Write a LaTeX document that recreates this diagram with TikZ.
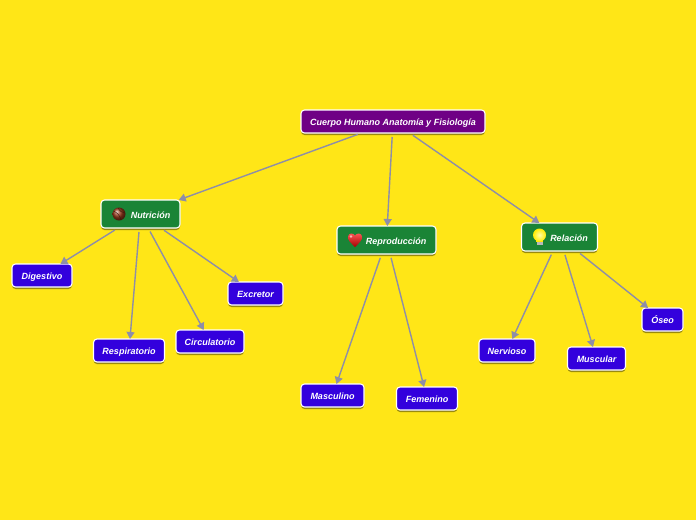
\documentclass[tikz,border=0pt]{standalone}
\usepackage{fontspec}
\setmainfont{Liberation Sans}
\usetikzlibrary{arrows.meta,shadows}
\definecolor{fondo}{HTML}{FFE617}
\definecolor{morado}{HTML}{6F0085}
\definecolor{verde}{HTML}{1A8436}
\definecolor{azul}{HTML}{3300DD}
\definecolor{enlace}{HTML}{8E8EA8}
\definecolor{balon}{HTML}{9A3A1C}
\tikzstyle{caja}=[draw=white,line width=1.1pt,rounded corners=3.5pt,inner sep=0pt,outer sep=0pt,text=white,text height=8pt,text depth=0pt,font=\fontsize{9}{10}\selectfont\bfseries\itshape,drop shadow={shadow xshift=0pt,shadow yshift=-2pt,fill=black,opacity=.4}]
\tikzstyle{raiz}=[caja,fill=morado,minimum width=184pt,minimum height=23pt]
\tikzstyle{rama}=[caja,fill=verde,minimum height=28pt]
\tikzstyle{hoja}=[caja,fill=azul,minimum height=23pt]
\tikzstyle{enlace}=[draw=enlace,line width=1.4pt,-{Triangle[length=7pt,width=8pt]},shorten <=4pt]

\begin{document}
\begin{tikzpicture}[x=1pt,y=-1pt]
	\useasboundingbox (0,0) rectangle (696,520);
	\fill[fondo] (0,0) rectangle (696,520);
	% cajas
	\node[raiz] (cuerpo) at (393,121.5){Cuerpo Humano Anatomía y Fisiología};
	\node[rama,minimum width=79pt] (nutricion) at (140.5,214){\hspace*{20pt}Nutrición};
	\node[rama,minimum width=99pt] (reproduccion) at (386.5,240){\hspace*{19pt}Reproducción};
	\node[rama,minimum width=76pt] (relacion) at (559.5,237){\hspace*{19pt}Relación};
	\node[hoja,minimum width=60pt] (digestivo) at (42,275.5){Digestivo};
	\node[hoja,minimum width=71pt] (respiratorio) at (129,350.5){Respiratorio};
	\node[hoja,minimum width=68pt] (circulatorio) at (210,341.5){Circulatorio};
	\node[hoja,minimum width=55pt] (excretor) at (255.5,293.5){Excretor};
	\node[hoja,minimum width=63pt] (masculino) at (332.5,395.5){Masculino};
	\node[hoja,minimum width=61pt] (femenino) at (427,398.5){Femenino};
	\node[hoja,minimum width=56pt] (nervioso) at (507,350.5){Nervioso};
	\node[hoja,minimum width=58pt] (muscular) at (596.5,358.5){Muscular};
	\node[hoja,minimum width=41pt] (oseo) at (662.5,319.5){Óseo};
	% enlaces
	\draw[enlace] (cuerpo) -- (nutricion);
	\draw[enlace] (cuerpo) -- (reproduccion);
	\draw[enlace] (cuerpo) -- (relacion);
	\draw[enlace] (nutricion) -- (digestivo);
	\draw[enlace] (nutricion) -- (respiratorio);
	\draw[enlace] (nutricion) -- (circulatorio);
	\draw[enlace] (nutricion) -- (excretor);
	\draw[enlace] (reproduccion) -- (masculino);
	\draw[enlace] (reproduccion) -- (femenino);
	\draw[enlace] (relacion) -- (nervioso);
	\draw[enlace] (relacion) -- (muscular);
	\draw[enlace] (relacion) -- (oseo);
	% iconos
	\shade[ball color=balon] (119,214) circle (6.5);
	\draw[black!60!balon,line width=.4pt] (113.5,211) .. controls (118,213) and (120,216) .. (121,220);
	\draw[black!60!balon,line width=.4pt] (118,208) .. controls (120,211) and (122,213) .. (125,213);
	\shade[top color=red!65!white,bottom color=red!65!black] (355,247) .. controls (350,242) and (347.5,240) .. (348,236.5) .. controls (348.5,233) and (353,232.5) .. (355,235.5) .. controls (357,232.5) and (361.5,233) .. (362,236.5) .. controls (362.5,240) and (360,242) .. (355,247);
	\fill[white,opacity=.6] (351,236.5) circle (1.3);
	\fill[yellow!85!orange] (536,237) rectangle (543,241.5);
	\shade[inner color=yellow!35!white,outer color=yellow!85!orange] (539.5,235) circle (6.5);
	\fill[gray!55!white] (536.5,241.5) rectangle (542.5,245);
\end{tikzpicture}
\end{document}
